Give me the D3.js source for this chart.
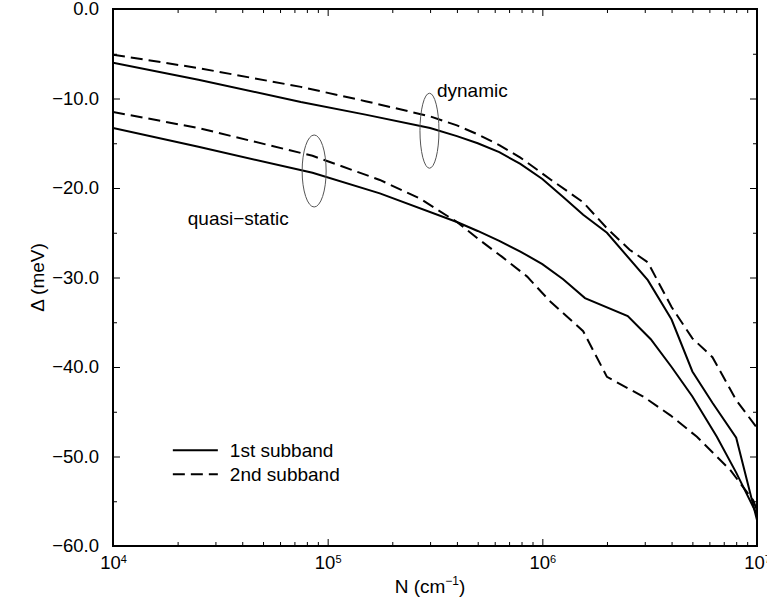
<!DOCTYPE html>
<html>
<head>
<meta charset="utf-8">
<script src="https://cdn.jsdelivr.net/npm/d3@7"></script>
<style>
  body { margin: 0; background: #fff; }
  svg { font-family: "Liberation Sans", Arial, Helvetica, sans-serif; }
</style>
</head>
<body>
<div id="chart-area"></div>
<script>
// data: N (cm^-1) vs gap Delta (meV)
const nDyn1 = [1e4, 2.5e4, 7.5e4, 1.5e5, 3e5, 4e5, 5e5, 6.3e5, 7.9e5, 1e6, 1.25e6, 1.55e6, 2e6, 3.1e6, 4e6, 5e6, 6.2e6, 8e6, 1e7];
const dyn1  = [-6.0, -7.9, -10.4, -11.8, -13.3, -14.2, -15.0, -16.0, -17.3, -19.0, -21.0, -23.0, -25.0, -30.3, -34.7, -40.5, -44.0, -47.9, -57.1];

const nDyn2 = [1e4, 2.5e4, 7.5e4, 1.5e5, 3e5, 4e5, 5e5, 6.3e5, 7.9e5, 1.1e6, 1.55e6, 2e6, 2.55e6, 3.1e6, 4e6, 5e6, 6.2e6, 8e6, 1e7];
const dyn2  = [-5.1, -6.6, -8.7, -10.3, -12.0, -13.0, -14.0, -15.2, -16.6, -19.1, -21.6, -24.5, -26.9, -28.3, -33.3, -36.8, -38.9, -43.7, -46.8];

const nQs1 = [1e4, 2.5e4, 8.5e4, 1.75e5, 4e5, 5e5, 6.3e5, 7.9e5, 1e6, 1.25e6, 1.58e6, 2.5e6, 3.2e6, 4e6, 5e6, 6.5e6, 8e6, 1e7];
const qs1  = [-13.3, -15.4, -18.3, -20.6, -23.8, -24.8, -25.9, -27.1, -28.5, -30.2, -32.3, -34.3, -36.9, -40.0, -43.3, -47.8, -51.8, -56.5];

const nQs2 = [1e4, 2.5e4, 8.5e4, 1.75e5, 2.7e5, 4e5, 5.1e5, 6.5e5, 8.5e5, 1.08e6, 1.55e6, 2e6, 2.95e6, 3.95e6, 5.25e6, 7.5e6, 9.6e6, 1e7];
const qs2  = [-11.5, -13.3, -16.4, -19.1, -21.2, -23.8, -25.8, -27.7, -29.9, -32.6, -36.0, -41.1, -43.3, -45.4, -47.8, -51.5, -54.9, -56.0];

const xMajor = [1e4, 1e5, 1e6, 1e7];
const yMajor = [0, -10, -20, -30, -40, -50, -60];
const legendLabels = ['1st subband', '2nd subband'];

const width = 767, height = 609;
const margins = { top: 9, right: 10, bottom: 63, left: 113 };
const w = width - margins.left - margins.right;
const h = height - margins.top - margins.bottom;

const svg = d3.select('#chart-area').append('svg')
  .attr('width', width)
  .attr('height', height)
  .append('g')
  .attr('transform', `translate(${margins.left}, ${margins.top})`);

const x = d3.scaleLog().domain([1e4, 1e7]).range([0, w]);
const y = d3.scaleLinear().domain([-60, 0]).range([h, 0]);

// minor ticks
const xMinor = [];
[1e4, 1e5, 1e6].forEach(d => { for (let k = 2; k <= 9; k++) xMinor.push(d * k); });
const yMinor = d3.range(-55, 0, 10);

const fmt = d3.format('.1f');

// bottom axis
const xAxis = svg.append('g')
  .attr('transform', `translate(0, ${h})`)
  .call(d3.axisBottom(x).tickValues(xMajor).tickSize(-7).tickPadding(10).tickFormat(''));
xAxis.selectAll('.tick text').each(function(d) {
  const t = d3.select(this).attr('font-size', 18.5).attr('dy', '0.71em');
  t.append('tspan').text('10');
  t.append('tspan').attr('font-size', 11).attr('dy', '-0.55em').text(Math.round(Math.log10(d)));
});
svg.append('g')
  .attr('transform', `translate(0, ${h})`)
  .call(d3.axisBottom(x).tickValues(xMinor).tickSize(-4).tickFormat(''));
// top axis
svg.append('g').call(d3.axisTop(x).tickValues(xMajor).tickSize(-7).tickFormat(''));
svg.append('g').call(d3.axisTop(x).tickValues(xMinor).tickSize(-4).tickFormat(''));

// left axis
svg.append('g')
  .call(d3.axisLeft(y).tickValues(yMajor).tickSize(-7).tickPadding(14).tickFormat(fmt))
  .selectAll('text').attr('font-size', 18.5);
svg.append('g').call(d3.axisLeft(y).tickValues(yMinor).tickSize(-4).tickFormat(''));
// right axis
svg.append('g').attr('transform', `translate(${w}, 0)`)
  .call(d3.axisRight(y).tickValues(yMajor).tickSize(-7).tickFormat(''));
svg.append('g').attr('transform', `translate(${w}, 0)`)
  .call(d3.axisRight(y).tickValues(yMinor).tickSize(-4).tickFormat(''));

svg.selectAll('.domain').remove();
svg.selectAll('.tick line').attr('stroke', '#000').attr('stroke-width', 1);
svg.selectAll('.tick text').attr('fill', '#000').attr('font-family', null);

// frame
svg.append('rect')
  .attr('width', w).attr('height', h)
  .attr('fill', 'none').attr('stroke', '#000').attr('stroke-width', 2);

// curves
svg.append('clipPath').attr('id', 'clip')
  .append('rect').attr('width', w).attr('height', h);

const line = d3.line().x(d => x(d[0])).y(d => y(d[1]));
const series = [
  { n: nDyn1, v: dyn1, dash: null },
  { n: nDyn2, v: dyn2, dash: '12,6' },
  { n: nQs1, v: qs1, dash: null },
  { n: nQs2, v: qs2, dash: '12,6' }
];
svg.append('g').attr('clip-path', 'url(#clip)')
  .selectAll('path')
  .data(series)
  .enter().append('path')
  .attr('d', s => line(s.n.map((n, i) => [n, s.v[i]])))
  .attr('fill', 'none')
  .attr('stroke', '#000')
  .attr('stroke-width', 2)
  .attr('stroke-dasharray', s => s.dash);

// ellipse annotations
const notes = [
  { n: 8.65e4, v: -18.1, rx: 12, ry: 36 },
  { n: 2.98e5, v: -13.6, rx: 9.5, ry: 37.5 }
];
svg.selectAll('ellipse')
  .data(notes)
  .enter().append('ellipse')
  .attr('cx', d => x(d.n))
  .attr('cy', d => y(d.v))
  .attr('rx', d => d.rx)
  .attr('ry', d => d.ry)
  .attr('fill', 'none')
  .attr('stroke', '#555')
  .attr('stroke-width', 1);

svg.append('text')
  .attr('x', x(3.23e5)).attr('y', y(-9.83))
  .attr('font-size', 19)
  .text('dynamic');
svg.append('text')
  .attr('x', x(2.23e4)).attr('y', y(-24.1))
  .attr('font-size', 19)
  .text('quasi\u2212static');

// legend
const legend = svg.selectAll('.legend')
  .data(legendLabels)
  .enter().append('g')
  .attr('class', 'legend')
  .attr('transform', (d, i) => `translate(${x(1.9e4)}, ${y(-49.3) + i * 24})`);
legend.append('line')
  .attr('x1', 0).attr('x2', 45)
  .attr('stroke', '#000').attr('stroke-width', 2)
  .attr('stroke-dasharray', (d, i) => i ? '12,6' : null);
legend.append('text')
  .attr('x', 57).attr('y', 7)
  .attr('font-size', 19)
  .text(d => d);

// axis titles
const xt = svg.append('text')
  .attr('x', w / 2 - 5).attr('y', h + 47)
  .attr('text-anchor', 'middle')
  .attr('font-size', 19);
xt.append('tspan').text('N (cm');
xt.append('tspan').attr('font-size', 12).attr('dy', -8).text('\u22121');
xt.append('tspan').attr('dy', 8).text(')');

svg.append('text')
  .attr('transform', `translate(${-margins.left + 44}, ${h / 2}) rotate(-90)`)
  .attr('text-anchor', 'middle')
  .attr('font-size', 19)
  .text('\u0394 (meV)');
</script>
</body>
</html>
